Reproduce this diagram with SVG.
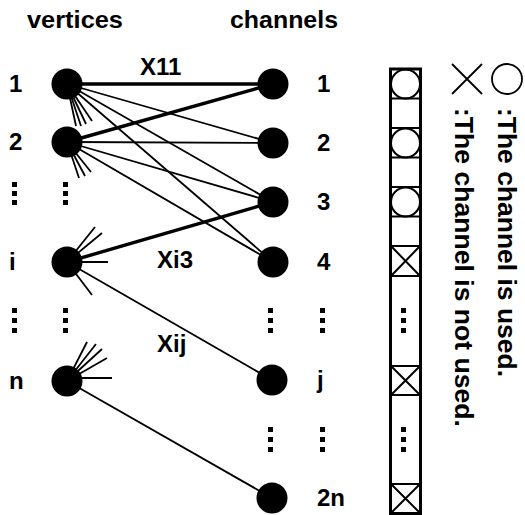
<svg xmlns="http://www.w3.org/2000/svg" width="525" height="515" viewBox="0 0 525 515">
<style>
text{font-family:"Liberation Sans",Arial,sans-serif;font-weight:bold;fill:#000}
.lab{font-size:24px}
.hdr{font-size:24px}
.leg{font-size:26px}
.thick{stroke:#000;stroke-width:3.4;fill:none}
.thin{stroke:#000;stroke-width:1.8;fill:none}
.node{fill:#000}
.dot{fill:#000}
.cell{fill:none;stroke:#000;stroke-width:2}
.sym{fill:none;stroke:#000;stroke-width:1.8}
</style>
<rect width="525" height="515" fill="#fff"/>
<text class="hdr" x="27" y="28" textLength="96" lengthAdjust="spacingAndGlyphs">vertices</text>
<text class="hdr" x="230" y="28" textLength="108" lengthAdjust="spacingAndGlyphs">channels</text>

<g id="connectors">
<line class="thick" x1="67" y1="84" x2="273" y2="84"/>
<line class="thick" x1="67" y1="142" x2="273" y2="84"/>
<line class="thick" x1="67" y1="262" x2="273" y2="202"/>
<line class="thin" x1="67" y1="84" x2="273" y2="143"/>
<line class="thin" x1="67" y1="84" x2="273" y2="202"/>
<line class="thin" x1="67" y1="84" x2="273" y2="262"/>
<line class="thin" x1="67" y1="142" x2="273" y2="143"/>
<line class="thin" x1="67" y1="142" x2="273" y2="202"/>
<line class="thin" x1="67" y1="142" x2="273" y2="262"/>
<line class="thin" x1="67" y1="262" x2="272" y2="380"/>
<line class="thin" x1="67" y1="381" x2="272" y2="498"/>
<g id="stubs">
<line class="thin" x1="67" y1="84" x2="76" y2="126"/>
<line class="thin" x1="67" y1="84" x2="81" y2="126"/>
<line class="thin" x1="67" y1="84" x2="86" y2="124"/>
<line class="thin" x1="67" y1="84" x2="92" y2="121"/>
<line class="thin" x1="67" y1="142" x2="79" y2="178"/>
<line class="thin" x1="67" y1="142" x2="85" y2="176"/>
<line class="thin" x1="67" y1="142" x2="91" y2="172"/>
<line class="thin" x1="67" y1="262" x2="95" y2="227"/>
<line class="thin" x1="67" y1="262" x2="102" y2="233"/>
<line class="thin" x1="67" y1="262" x2="108" y2="262"/>
<line class="thin" x1="67" y1="262" x2="92" y2="295"/>
<line class="thin" x1="67" y1="381" x2="87" y2="342"/>
<line class="thin" x1="67" y1="381" x2="96" y2="344"/>
<line class="thin" x1="67" y1="381" x2="102" y2="349"/>
<line class="thin" x1="67" y1="381" x2="107" y2="358"/>
<line class="thin" x1="67" y1="378" x2="112" y2="378"/>
</g>
</g>

<g id="v1"><circle class="node" cx="67" cy="84" r="15.5"/><text class="lab" x="9" y="92">1</text></g>
<g id="v2"><circle class="node" cx="67" cy="142" r="15.5"/><text class="lab" x="9" y="150">2</text></g>
<g id="vi"><circle class="node" cx="67" cy="262" r="15.5"/><text class="lab" x="9" y="270">i</text></g>
<g id="vn"><circle class="node" cx="67" cy="381" r="15.5"/><text class="lab" x="9" y="389">n</text></g>

<g id="c1"><circle class="node" cx="273" cy="84" r="15.5"/><text class="lab" x="317" y="92">1</text></g>
<g id="c2"><circle class="node" cx="273" cy="143" r="15.5"/><text class="lab" x="317" y="151">2</text></g>
<g id="c3"><circle class="node" cx="273" cy="202" r="15.5"/><text class="lab" x="317" y="210">3</text></g>
<g id="c4"><circle class="node" cx="273" cy="262" r="15.5"/><text class="lab" x="317" y="270">4</text></g>
<g id="cj"><circle class="node" cx="272" cy="380" r="15.5"/><text class="lab" x="317" y="388">j</text></g>
<g id="c2n"><circle class="node" cx="272" cy="498" r="15.5"/><text class="lab" x="317" y="506">2n</text></g>

<g id="edge-labels">
<text class="lab" x="140" y="75">X11</text>
<text class="lab" x="157" y="268">Xi3</text>
<text class="lab" x="157" y="352">Xij</text>
</g>

<g id="ellipses">
<rect class="dot" x="12" y="182" width="5" height="5"/><rect class="dot" x="12" y="191" width="5" height="5"/><rect class="dot" x="12" y="200" width="5" height="5"/>
<rect class="dot" x="63" y="182" width="5" height="5"/><rect class="dot" x="63" y="191" width="5" height="5"/><rect class="dot" x="63" y="200" width="5" height="5"/>
<rect class="dot" x="12" y="308" width="5" height="5"/><rect class="dot" x="12" y="318" width="5" height="5"/><rect class="dot" x="12" y="328" width="5" height="5"/>
<rect class="dot" x="63" y="308" width="5" height="5"/><rect class="dot" x="63" y="318" width="5" height="5"/><rect class="dot" x="63" y="328" width="5" height="5"/>
<rect class="dot" x="268" y="308" width="5" height="5"/><rect class="dot" x="268" y="318" width="5" height="5"/><rect class="dot" x="268" y="328" width="5" height="5"/>
<rect class="dot" x="320" y="308" width="5" height="5"/><rect class="dot" x="320" y="318" width="5" height="5"/><rect class="dot" x="320" y="328" width="5" height="5"/>
<rect class="dot" x="268" y="427" width="5" height="5"/><rect class="dot" x="268" y="437" width="5" height="5"/><rect class="dot" x="268" y="447" width="5" height="5"/>
<rect class="dot" x="320" y="427" width="5" height="5"/><rect class="dot" x="320" y="437" width="5" height="5"/><rect class="dot" x="320" y="447" width="5" height="5"/>
</g>

<g id="channel-column">
<rect x="390.5" y="69" width="30" height="444.5" fill="none" stroke="#000" stroke-width="3"/>
<g stroke="#000" stroke-width="2">
<line x1="390" y1="98.5" x2="421" y2="98.5"/>
<line x1="390" y1="128" x2="421" y2="128"/>
<line x1="390" y1="157.5" x2="421" y2="157.5"/>
<line x1="390" y1="187" x2="421" y2="187"/>
<line x1="390" y1="216.5" x2="421" y2="216.5"/>
<line x1="390" y1="246" x2="421" y2="246"/>
<line x1="390" y1="276" x2="421" y2="276"/>
<line x1="390" y1="366" x2="421" y2="366"/>
<line x1="390" y1="395" x2="421" y2="395"/>
<line x1="390" y1="484" x2="421" y2="484"/>
</g>
<circle class="cell" cx="405.5" cy="84" r="14.5"/>
<circle class="cell" cx="405.5" cy="143" r="14.5"/>
<circle class="cell" cx="405.5" cy="202" r="14.5"/>
<path class="cell" d="M391 246L420 276M420 246L391 276"/>
<path class="cell" d="M391 366L420 395M420 366L391 395"/>
<path class="cell" d="M391 484L420 513M420 484L391 513"/>
<rect class="dot" x="401" y="308" width="5" height="5"/><rect class="dot" x="401" y="318" width="5" height="5"/><rect class="dot" x="401" y="328" width="5" height="5"/>
<rect class="dot" x="401" y="427" width="5" height="5"/><rect class="dot" x="401" y="437" width="5" height="5"/><rect class="dot" x="401" y="447" width="5" height="5"/>
</g>

<g id="legend">
<path class="sym" d="M452 64L482 94M482 64L452 94"/>
<circle class="sym" cx="507" cy="79" r="15"/>
<text class="leg" transform="translate(498,108) rotate(90)" textLength="269" lengthAdjust="spacingAndGlyphs">:The channel is used.</text>
<text class="leg" transform="translate(455,108) rotate(90)" textLength="319" lengthAdjust="spacingAndGlyphs">:The channel is not used.</text>
</g>
</svg>
